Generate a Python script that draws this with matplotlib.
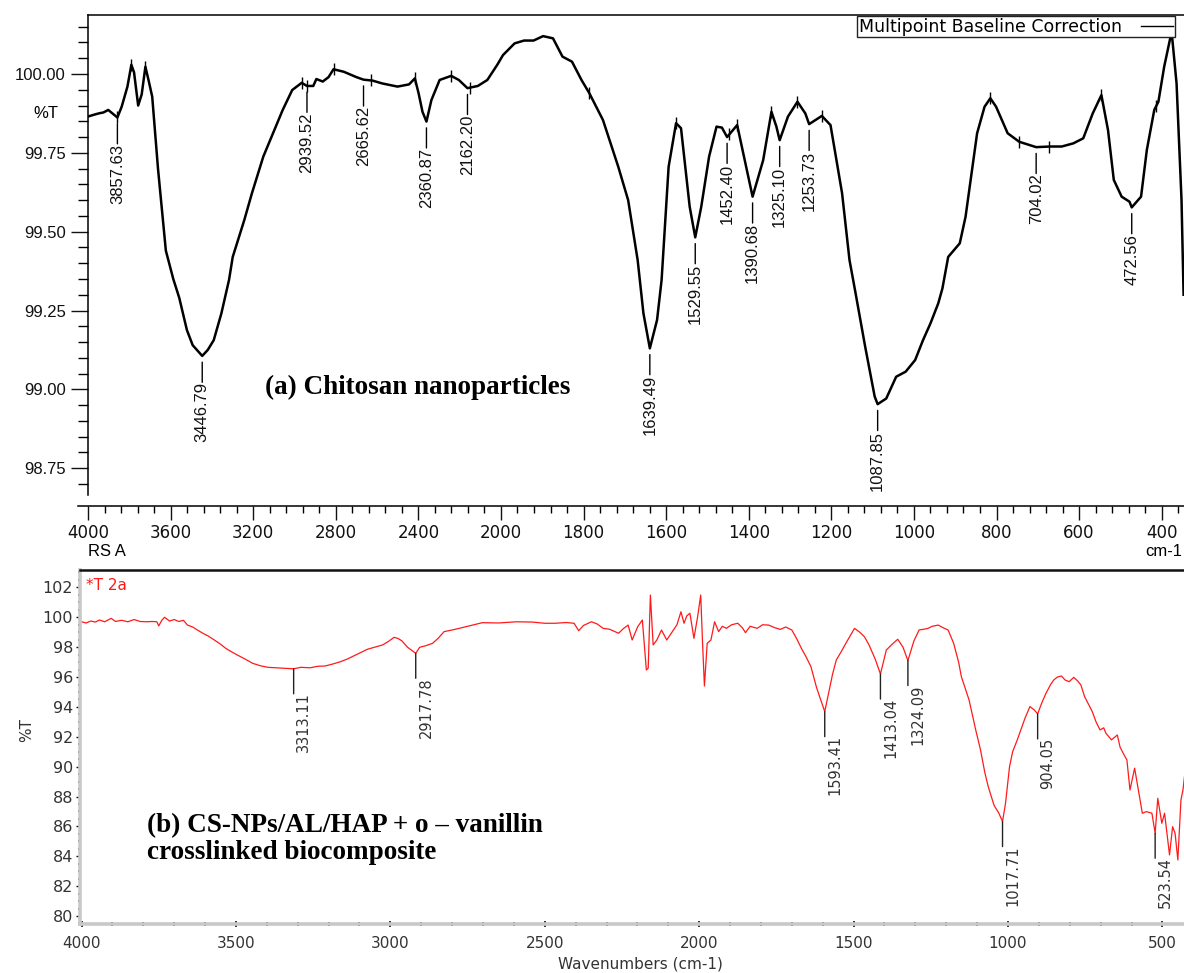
import numpy as np
import matplotlib
matplotlib.use("Agg")
import matplotlib.pyplot as plt
from matplotlib.lines import Line2D
from matplotlib.ticker import FixedLocator, FormatStrFormatter

# ---- panel (a): chitosan nanoparticles (%T) ----
top_wn = [4000, 3975, 3948, 3925, 3902, 3880, 3857.63, 3837, 3809, 3790, 3777, 3757,
          3740, 3722, 3707, 3689, 3661, 3623, 3587, 3558, 3521, 3493, 3446.79, 3420,
          3391, 3354, 3317, 3299, 3243, 3206, 3151, 3104, 3057, 3011, 2965, 2939.52,
          2909, 2894, 2863, 2835, 2811, 2761, 2700, 2665.62, 2622, 2575, 2501, 2445,
          2417, 2399, 2380, 2360.87, 2337, 2297, 2241, 2204, 2162.20, 2112, 2066, 2018,
          1995, 1967, 1944, 1921, 1898, 1874, 1851, 1828, 1805, 1786, 1753, 1716, 1692,
          1669, 1655, 1639.49, 1622, 1611, 1594, 1576, 1564, 1543, 1529.55, 1515, 1496,
          1478, 1465, 1452.40, 1428, 1408, 1390.68, 1365, 1345, 1333, 1325.10, 1305,
          1282, 1263, 1253.73, 1223, 1202, 1174, 1156, 1142, 1118, 1095, 1087.85, 1067,
          1043, 1020, 997, 978, 960, 941, 931, 917, 889, 875, 847, 829, 815, 801, 773,
          745, 704.02, 670, 642, 614, 590, 567, 546, 530, 516, 497, 478, 472.56, 450,
          436, 418, 408, 394, 376, 364, 352, 347]
top_t = [99.865, 99.870, 99.875, 99.878, 99.886, 99.874, 99.862, 99.896, 99.960, 100.029,
         100.005, 99.900, 99.935, 100.023, 99.981, 99.928, 99.700, 99.440, 99.350, 99.290,
         99.188, 99.140, 99.106, 99.125, 99.156, 99.241, 99.347, 99.420, 99.537, 99.622,
         99.738, 99.812, 99.886, 99.949, 99.972, 99.962, 99.962, 99.984, 99.976, 99.990,
         100.015, 100.007, 99.990, 99.982, 99.979, 99.970, 99.960, 99.967, 99.986, 99.939,
         99.880, 99.849, 99.917, 99.981, 99.994, 99.981, 99.955, 99.962, 99.981, 100.029,
         100.060, 100.097, 100.106, 100.106, 100.120, 100.113, 100.055, 100.039, 99.981,
         99.939, 99.854, 99.706, 99.600, 99.410, 99.241, 99.130, 99.220, 99.347, 99.706,
         99.844, 99.828, 99.579, 99.482, 99.579, 99.738, 99.833, 99.830, 99.800, 99.838,
         99.717, 99.611, 99.727, 99.880, 99.833, 99.790, 99.865, 99.912, 99.875, 99.841,
         99.867, 99.838, 99.622, 99.410, 99.310, 99.135, 98.977, 98.953, 98.971, 99.040,
         99.056, 99.093, 99.156, 99.209, 99.273, 99.320, 99.420, 99.463, 99.547, 99.812,
         99.896, 99.923, 99.896, 99.812, 99.785, 99.768, 99.770, 99.770, 99.780, 99.796,
         99.875, 99.933, 99.822, 99.664, 99.611, 99.595, 99.577, 99.611, 99.759, 99.886,
         99.912, 100.023, 100.134, 99.970, 99.600, 99.300]
top_peaks = [3857.63, 3446.79, 2939.52, 2665.62, 2360.87, 2162.20, 1639.49, 1529.55,
             1452.40, 1390.68, 1325.10, 1253.73, 1087.85, 704.02, 472.56]
top_base_pts = [3857.63, 3790, 3722, 2965, 2939.52, 2811, 2631, 2417, 2241, 2150, 1786,
                1576, 1447, 1428, 1345, 1282, 1223, 815, 745, 672, 546, 413]
top_yticks = [98.75, 99.00, 99.25, 99.50, 99.75, 100.00]
top_xticks = [4000, 3600, 3200, 2800, 2400, 2000, 1800, 1600, 1400, 1200, 1000, 800, 600, 400]

# ---- panel (b): CS-NPs/AL/HAP + o-vanillin (%T) ----
bot_wn = [4000, 3985, 3970, 3955, 3942, 3925, 3904, 3890, 3870, 3850, 3830, 3810, 3790,
          3770, 3756, 3750, 3740, 3731, 3715, 3700, 3685, 3670, 3657, 3640, 3625, 3607,
          3590, 3570, 3550, 3533, 3515, 3496, 3470, 3446, 3420, 3396, 3370, 3347, 3313.11,
          3290, 3260, 3235, 3211, 3185, 3161, 3140, 3124, 3100, 3074, 3050, 3025, 3005,
          2988, 2975, 2963, 2944, 2917.78, 2905, 2885, 2863, 2845, 2826, 2800, 2777, 2740,
          2702, 2650, 2591, 2540, 2500, 2467, 2430, 2405, 2390, 2375, 2349, 2330, 2311,
          2290, 2261, 2245, 2230, 2217, 2199, 2184, 2171, 2165, 2158, 2149, 2137, 2122,
          2105, 2087, 2072, 2059, 2049, 2040, 2030, 2017, 2005, 1995, 1989, 1983, 1974,
          1962, 1950, 1937, 1925, 1912, 1895, 1875, 1860, 1850, 1835, 1812, 1795, 1775,
          1755, 1737, 1720, 1700, 1685, 1669, 1655, 1638, 1620, 1593.41, 1581, 1568, 1556,
          1540, 1525, 1510, 1497, 1480, 1465, 1450, 1430, 1413.04, 1394, 1375, 1357, 1340,
          1324.09, 1305, 1288, 1260, 1245, 1226, 1210, 1194, 1176, 1160, 1151, 1126, 1105,
          1089, 1075, 1064, 1045, 1030, 1017.71, 1008, 995, 985, 970, 945, 929, 915,
          904.05, 890, 877, 862, 852, 840, 827, 815, 802, 787, 775, 764, 752, 740, 727,
          715, 702, 690, 683, 665, 646, 637, 627, 615, 605, 590, 578, 565, 552, 534,
          523.54, 515, 502, 493, 477, 467, 459, 450, 440, 433, 425]
bot_t = [99.70, 99.62, 99.75, 99.68, 99.82, 99.70, 99.93, 99.72, 99.80, 99.70, 99.85, 99.72,
         99.70, 99.72, 99.70, 99.42, 99.80, 100.00, 99.75, 99.85, 99.72, 99.80, 99.48, 99.35,
         99.15, 98.93, 98.75, 98.48, 98.20, 97.92, 97.70, 97.48, 97.20, 96.92, 96.75, 96.65,
         96.62, 96.59, 96.55, 96.65, 96.62, 96.72, 96.74, 96.88, 97.03, 97.20, 97.36, 97.60,
         97.86, 98.00, 98.15, 98.40, 98.66, 98.58, 98.43, 97.99, 97.59, 97.99, 98.10, 98.26,
         98.60, 99.04, 99.15, 99.26, 99.45, 99.64, 99.62, 99.70, 99.68, 99.60, 99.60, 99.65,
         99.60, 99.10, 99.45, 99.70, 99.55, 99.26, 99.20, 98.93, 99.25, 99.48, 98.48, 99.37,
         99.82, 96.47, 96.60, 101.49, 98.15, 98.48, 99.15, 98.48, 99.04, 99.50, 100.37, 99.60,
         100.10, 100.27, 98.59, 100.04, 101.49, 98.26, 95.40, 98.26, 98.48, 99.70, 99.04,
         99.40, 99.26, 99.50, 99.60, 99.30, 98.97, 99.40, 99.26, 99.50, 99.48, 99.30, 99.19,
         99.35, 99.15, 98.60, 97.92, 97.40, 96.69, 95.30, 93.68, 94.91, 96.20, 97.14, 97.70,
         98.26, 98.80, 99.26, 99.00, 98.70, 98.15, 97.20, 96.20, 97.81, 98.20, 98.53, 98.00,
         97.10, 98.40, 99.15, 99.25, 99.40, 99.48, 99.30, 99.15, 98.26, 97.00, 96.03, 94.46,
         92.50, 91.12, 89.60, 88.66, 87.40, 86.90, 86.32, 87.55, 90.00, 91.00, 91.79, 93.24,
         94.02, 93.80, 93.53, 94.30, 94.91, 95.50, 95.80, 96.00, 96.07, 95.80, 95.69, 95.98,
         95.75, 95.47, 94.69, 94.20, 93.68, 93.00, 92.46, 92.60, 92.24, 91.79, 92.12, 91.30,
         90.90, 90.45, 88.44, 89.90, 88.44, 86.88, 86.99, 86.88, 85.54, 87.88, 86.21, 86.88,
         84.09, 85.98, 85.54, 83.75, 87.77, 88.50, 90.00]
bot_peaks = [3313.11, 2917.78, 1593.41, 1413.04, 1324.09, 1017.71, 904.05, 523.54]
bot_yticks = list(range(80, 103, 2))
bot_xticks = [4000, 3500, 3000, 2500, 2000, 1500, 1000, 500]


# spectrometer-style axis: 2000-350 cm-1 drawn at twice the scale of 4000-2000
def fwd(w):
    w = np.asarray(w, dtype=float)
    return np.where(w >= 2000, w, 2 * w - 2000)


def inv(u):
    u = np.asarray(u, dtype=float)
    return np.where(u >= 2000, u, (u + 2000) / 2)


W, H = 1184, 973
fig = plt.figure(figsize=(W / 100, H / 100), dpi=100)
ax1 = fig.add_axes([88 / W, 1 - 495 / H, 1 - 88 / W, (495 - 15) / H])
ax2 = fig.add_axes([80 / W, 1 - 924 / H, 1 - 80 / W, (924 - 570) / H])

# ---------------- top panel ----------------
sans = "Liberation Sans"
ax1.set_xscale("function", functions=(fwd, inv))
ax1.plot(top_wn, top_t, color="black", lw=1.8)
base_t = np.interp(top_base_pts, top_wn[::-1], top_t[::-1])
ax1.plot(top_base_pts, base_t, ls="none", marker="|", ms=9, mew=1.0, color="black")
ax1.set_xlim(4000, 346)
ax1.set_ylim(98.665, 100.187)

ax1.xaxis.set_major_locator(FixedLocator(top_xticks))
ax1.xaxis.set_minor_locator(FixedLocator(list(np.arange(4000, 2000, -80)) + list(np.arange(2000, 340, -40))))
ax1.yaxis.set_major_locator(FixedLocator(top_yticks))
ax1.yaxis.set_minor_locator(FixedLocator(np.arange(98.70, 100.19, 0.05)))
ax1.yaxis.set_major_formatter(FormatStrFormatter("%.2f"))
ax1.xaxis.set_major_formatter(FormatStrFormatter("%d"))
ax1.tick_params(axis="x", which="major", direction="out", length=10, width=1.0, pad=3,
                labelsize=12, colors="#111111")
ax1.tick_params(axis="x", which="minor", direction="out", length=5, width=1.0)
ax1.tick_params(axis="y", which="major", direction="out", length=12, width=1.0, pad=4,
                labelsize=12, colors="#111111")
ax1.tick_params(axis="y", which="minor", direction="out", length=7, width=1.0)
for lab in ax1.get_xticklabels() + ax1.get_yticklabels():
    lab.set_family(sans)

ax1.spines["right"].set_visible(False)
ax1.spines["bottom"].set_position(("outward", 8))
ax1.spines["bottom"].set_bounds(4048, 346)
for s in ["top", "left", "bottom"]:
    ax1.spines[s].set_linewidth(1.1)

for p in top_peaks:
    t = np.interp(p, top_wn[::-1], top_t[::-1])
    ax1.annotate("", xy=(p, t), xytext=(0, -19), textcoords="offset points",
                 arrowprops=dict(arrowstyle="-", color="black", lw=1.0, shrinkA=0, shrinkB=4.5))
    ax1.annotate(f"{p:.2f}", xy=(p, t), xytext=(0, -19), textcoords="offset points",
                 rotation=90, ha="center", va="top", fontsize=12, family=sans, color="#111111")

ax1.text(-0.0383, 0.794, "%T", transform=ax1.transAxes, ha="center", va="center",
         fontsize=12, family=sans)
ax1.text(0.0, -0.118, "RS A", transform=ax1.transAxes, ha="left", va="center",
         fontsize=12, family=sans)
ax1.text(0.965, -0.118, "cm-1", transform=ax1.transAxes, ha="left", va="center",
         fontsize=12, family=sans, clip_on=False)
ax1.text(0.1615, 0.225, "(a) Chitosan nanoparticles", transform=ax1.transAxes,
         ha="left", va="center", fontsize=19.5, fontweight="bold", family="Liberation Serif")

leg = ax1.legend(handles=[Line2D([], [], color="black", lw=1.0)],
                 labels=["Multipoint Baseline Correction"], loc="upper right",
                 bbox_to_anchor=(1 - 9 / 1096, 1 - 1 / 480), borderaxespad=0,
                 markerfirst=False, fancybox=False, framealpha=1, edgecolor="#222222",
                 prop={"family": "DejaVu Sans", "size": 12.5}, borderpad=0.1,
                 handlelength=1.85, handletextpad=1.1)
leg.get_frame().set_linewidth(1.0)

# ---------------- bottom panel ----------------
red = "#ff1a1a"
ax2.plot(bot_wn, bot_t, color=red, lw=0.9)
ax2.set_xlim(4004.9, 430.1)
ax2.set_ylim(79.464, 103.167)
ax2.xaxis.set_major_locator(FixedLocator(bot_xticks))
ax2.xaxis.set_minor_locator(FixedLocator(np.arange(4000, 400, -100)))
ax2.yaxis.set_major_locator(FixedLocator(bot_yticks))
ax2.yaxis.set_minor_locator(FixedLocator(np.arange(79.5, 103.1, 0.5)))
ax2.tick_params(axis="x", which="major", direction="inout", length=5, width=1.2, pad=6,
                labelsize=11, labelcolor="#333333", color="#111111")
ax2.tick_params(axis="x", which="minor", direction="inout", length=2.5, width=1.4, color="#111111")
ax2.tick_params(axis="y", which="major", direction="out", length=3, width=1.0, pad=2,
                labelsize=11.5, labelcolor="#333333", color="#111111")
ax2.tick_params(axis="y", which="minor", direction="out", length=1.5, width=1.2, color="#111111")

ax2.spines["right"].set_visible(False)
ax2.spines["top"].set_linewidth(1.8)
ax2.spines["top"].set_color("#111111")
for s in ["left", "bottom"]:
    ax2.spines[s].set_linewidth(2.6)
    ax2.spines[s].set_color("#c8c8c8")

for p in bot_peaks:
    t = np.interp(p, bot_wn[::-1], bot_t[::-1])
    ax2.annotate("", xy=(p, t), xytext=(0, -18), textcoords="offset points",
                 arrowprops=dict(arrowstyle="-", color="#222222", lw=1.0, shrinkA=0, shrinkB=0))
    ax2.annotate(f"{p:.2f}", xy=(p, t), xytext=(2, -17), textcoords="offset points",
                 rotation=90, ha="left", va="top", fontsize=10.5, color="#333333")

ax2.set_ylabel("%T", fontsize=11, color="#333333", va="center")
ax2.yaxis.set_label_coords((27 - 80) / 1104, (924 - 730) / 354)
ax2.set_xlabel("Wavenumbers (cm-1)", fontsize=11, color="#333333", va="center")
ax2.xaxis.set_label_coords((640 - 80) / 1104, (924 - 964) / 354)
ax2.text(0.0054, 0.9576, "*T 2a", transform=ax2.transAxes, ha="left", va="center",
         fontsize=11, color=red)
ax2.text(0.0607, 0.24, "(b) CS-NPs/AL/HAP + o \u2013 vanillin\ncrosslinked biocomposite",
         transform=ax2.transAxes, ha="left", va="center", fontsize=19.5, fontweight="bold",
         family="Liberation Serif", linespacing=1.05)

fig.savefig("out.png", dpi=100)
